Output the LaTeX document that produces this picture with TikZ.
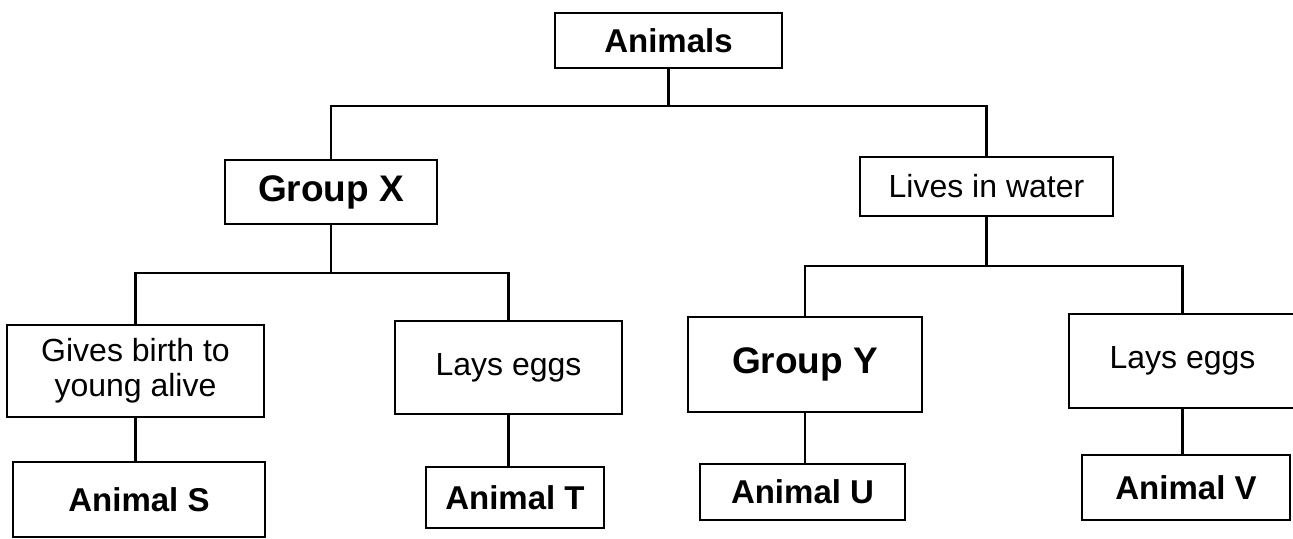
\documentclass[tikz,border=0pt]{standalone}
\usepackage{fontspec}
\setmainfont{Liberation Sans}
\begin{document}
\begin{tikzpicture}[x=0.5pt,y=-0.5pt,
  box/.style={draw, line width=1.1pt, inner sep=0pt, align=center},
  lbl/.style={font=\fontsize{16}{17.5}\selectfont},
  grp/.style={font=\fontsize{18.5}{20}\selectfont\bfseries},
  ani/.style={font=\fontsize{16.5}{18}\selectfont\bfseries},
  conn/.style={line width=1.1pt}]
\useasboundingbox[fill=white] (0,0) rectangle (1293,539);

\node[box,ani,minimum width=113.5pt,minimum height=27.5pt] (animals) at (668.5,40.5) {Animals};
\node[box,grp,minimum width=106pt,minimum height=32pt] (groupx) at (331,192) {Group X};
\node[box,lbl,minimum width=126.5pt,minimum height=29.5pt] (lives) at (986.5,186.5) {Lives in water};
\node[box,lbl,minimum width=128.5pt,minimum height=46pt] (gives) at (135.5,371) {Gives birth to\\young alive};
\node[box,lbl,minimum width=113.5pt,minimum height=46.5pt] (laysL) at (508.5,367.5) {Lays eggs};
\node[box,grp,minimum width=117pt,minimum height=47.5pt] (groupy) at (805,364.5) {Group Y};
\node[box,lbl,minimum width=113.5pt,minimum height=47pt] (laysR) at (1182.5,361) {Lays eggs};
\node[box,ani,minimum width=126pt,minimum height=37.5pt] (animS) at (139,499.5) {Animal S};
\node[box,ani,minimum width=89pt,minimum height=30.5pt] (animT) at (515,497.5) {Animal T};
\node[box,ani,minimum width=102.5pt,minimum height=28pt] (animU) at (802.5,492) {Animal U};
\node[box,ani,minimum width=104pt,minimum height=32.5pt] (animV) at (1186,487.5) {Animal V};

\coordinate (jt) at (0,106);
\coordinate (jl) at (0,273);
\coordinate (jr) at (0,266);

\draw[conn] (animals.south) -- (animals.south |- jt);
\draw[conn] (groupx.north) -- (groupx.north |- jt) -- (lives.north |- jt) -- (lives.north);
\draw[conn] (groupx.south) -- (groupx.south |- jl);
\draw[conn] (gives.north) -- (gives.north |- jl) -- (laysL.north |- jl) -- (laysL.north);
\draw[conn] (lives.south) -- (lives.south |- jr);
\draw[conn] (groupy.north) -- (groupy.north |- jr) -- (laysR.north |- jr) -- (laysR.north);
\draw[conn] (gives.south) -- (gives.south |- animS.north);
\draw[conn] (laysL.south) -- (laysL.south |- animT.north);
\draw[conn] (groupy.south) -- (groupy.south |- animU.north);
\draw[conn] (laysR.south) -- (laysR.south |- animV.north);
\end{tikzpicture}
\end{document}
